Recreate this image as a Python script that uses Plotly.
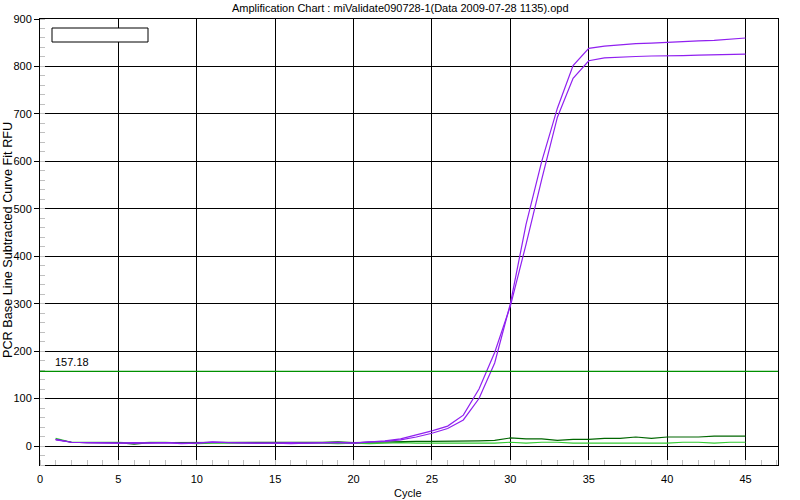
import plotly.graph_objects as go

cycles = list(range(1, 46))

purple_a = [14, 8, 7, 6, 6, 6, 7, 7, 6, 6, 8, 7, 6, 6, 6, 7, 6, 7, 8, 6,
            9, 10, 13, 19, 27, 37, 55, 100, 175, 300, 467, 600, 712, 802, 838,
            843, 846, 848, 849, 851, 852, 854, 855, 857, 860]
purple_b = [13, 8, 7, 6, 6, 7, 6, 7, 5, 6, 9, 7, 6, 6, 6, 5, 6, 7, 7, 6,
            8, 11, 15, 23, 32, 42, 65, 120, 197, 295, 425, 562, 693, 775, 812,
            818, 820, 821, 822, 822, 823, 824, 825, 826, 826]
dark_green = [14, 8, 7, 7, 7, 4, 7, 7, 7, 8, 7, 8, 7, 7, 7, 7, 7, 8, 9, 7,
              8, 9, 10, 10, 10, 10, 10, 11, 12, 17, 15, 15, 12, 14, 14,
              16, 16, 19, 16, 19, 19, 19, 21, 21, 21]
light_green = [16, 8, 8, 8, 8, 6, 8, 8, 7, 5, 6, 6, 6, 6, 7, 7, 6, 6, 5, 6,
               5, 6, 7, 6, 6, 6, 6, 6, 6, 8, 6, 8, 8, 6, 6,
               6, 6, 6, 6, 6, 8, 8, 6, 8, 8]

threshold = 157.18
x_ticks = [0, 5, 10, 15, 20, 25, 30, 35, 40, 45]
y_ticks = [0, 100, 200, 300, 400, 500, 600, 700, 800, 900]

title_text = "Amplification Chart : miValidate090728-1(Data 2009-07-28 1135).opd"
x_title = "Cycle"
y_title = "PCR Base Line Subtracted Curve Fit RFU"

FONT = "Liberation Sans, Arial, sans-serif"
TXT = dict(family=FONT, size=11, color="#000")

fig = go.Figure()
series = [
    (light_green, "#33cc33"),
    (dark_green, "#006600"),
    (purple_b, "#9020f0"),
    (purple_a, "#9020f0"),
]
for vals, col in series:
    fig.add_trace(go.Scatter(x=cycles, y=vals, mode="lines",
                             line=dict(color=col, width=1.2), showlegend=False,
                             hoverinfo="skip"))

fig.add_hline(y=threshold, line=dict(color="#009000", width=1.3))

# empty legend box
fig.add_shape(type="rect", xref="paper", yref="paper",
              x0=(52 - 40) / 738, x1=(148 - 40) / 738,
              y0=1 - (42 - 19) / 446, y1=1 - (28 - 19) / 446,
              line=dict(color="black", width=1), fillcolor="white")

fig.add_annotation(x=(400 - 40) / 738, y=1, xref="paper", yref="paper",
                   yanchor="bottom", yshift=3, text=title_text,
                   showarrow=False, font=TXT)
fig.add_annotation(x=(408 - 40) / 738, y=0, xref="paper", yref="paper",
                   yanchor="top", yshift=-20, text=x_title, showarrow=False,
                   font=TXT)
fig.add_annotation(x=0, y=0.5, xref="paper", yref="paper", xanchor="center",
                   xshift=-32, yshift=2, text=y_title, showarrow=False,
                   textangle=-90,
                   font=dict(family=FONT, size=12.7, color="#000"))
fig.add_annotation(x=(53 - 40) / 738, xref="paper", y=threshold, yref="y",
                   text=f"{threshold:.2f}", showarrow=False, xanchor="left",
                   yanchor="bottom", yshift=1, font=TXT)

fig.update_layout(
    template="none",
    width=800, height=500,
    margin=dict(l=40, r=22, t=19, b=35, autoexpand=False),
    paper_bgcolor="white", plot_bgcolor="white",
    font=TXT,
)
fig.update_xaxes(range=[0, 47.07], tickvals=x_ticks, showgrid=True,
                 gridcolor="black", gridwidth=1, zeroline=False,
                 showline=True, linecolor="black", linewidth=1, mirror=True,
                 automargin=False,
                 ticks="outside", ticklen=4, tickcolor="white",
                 minor=dict(dtick=1, tick0=0, ticks="inside", ticklen=5,
                            tickcolor="#c0c0c0", showgrid=False))
fig.update_yaxes(range=[-40, 900], tickvals=y_ticks, showgrid=True,
                 gridcolor="black", gridwidth=1, zeroline=False,
                 showline=True, linecolor="black", linewidth=1, mirror=True,
                 automargin=False,
                 ticks="outside", ticklen=5, tickcolor="black",
                 minor=dict(dtick=20, tick0=0, ticks="inside", ticklen=5,
                            tickcolor="#c0c0c0", showgrid=False))

fig.write_html("out.html", config={"displayModeBar": False},
               post_script="document.body.style.margin='0';document.body.style.overflow='hidden';")
